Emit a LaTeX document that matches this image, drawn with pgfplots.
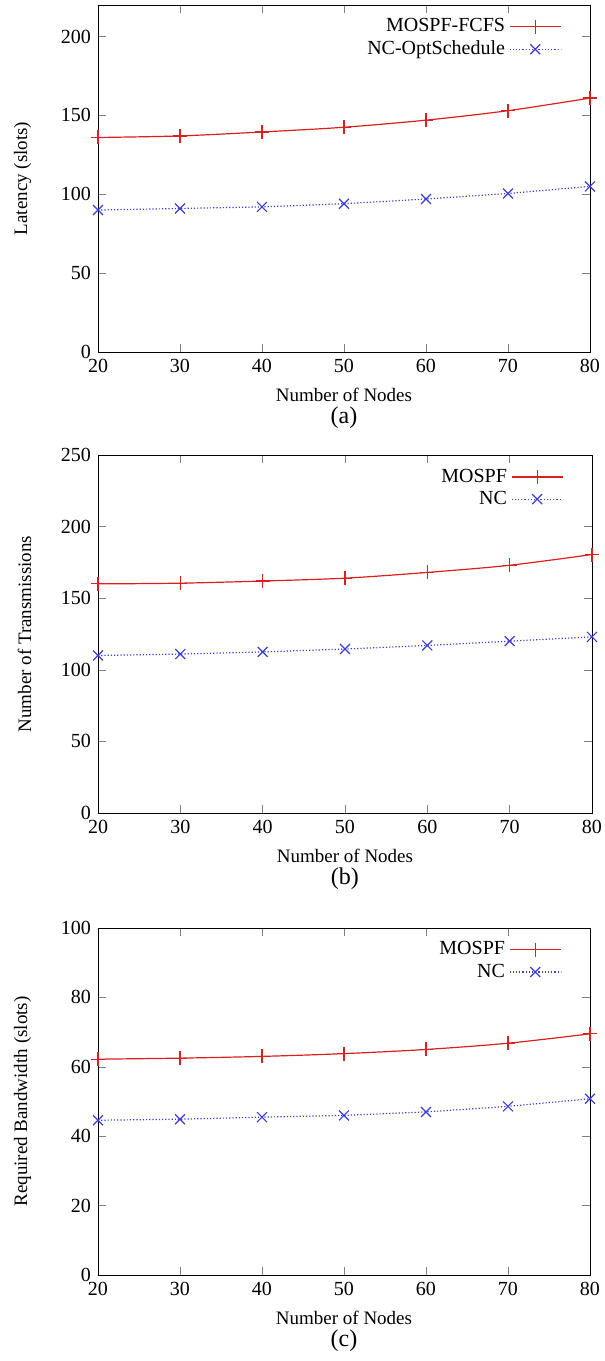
\documentclass[border=0pt]{standalone}
\usepackage{fontspec}
\setmainfont{Liberation Serif}
\usepackage{pgfplots}
\pgfplotsset{compat=1.18}

\definecolor{gpred}{RGB}{220,30,30}
\definecolor{gpblue}{RGB}{60,60,215}

\pgfplotsset{
  gp/.style={
    scale only axis,
    width=246pt,
    xmin=20, xmax=80,
    xtick={20,30,40,50,60,70,80},
    ymin=0,
    tick align=inside,
    major tick length=4pt,
    tick label style={font=\fontsize{10}{12}\selectfont},
    /pgf/number format/assume math mode=true,
    label style={font=\fontsize{9.5}{11}\selectfont},
    xlabel style={align=center, yshift=-1pt},
    ylabel style={yshift=8pt},
    legend style={at={(0.955,0.985)}, anchor=north east, draw=none, fill=none,
      font=\fontsize{10}{12}\selectfont, row sep=-1pt},
    legend cell align=right,
    legend plot pos=right,
    legend image code/.code={
      \draw[mark repeat=2,mark phase=2,#1] plot coordinates {(0cm,0cm) (0.45cm,0cm) (0.9cm,0cm)};
    },
    clip=false,
  },
  redline/.style={gpred, line width=0.6pt, smooth, mark=+, mark size=3.5pt, mark options={solid}},
  blueline/.style={gpblue, line width=0.6pt, densely dotted, mark=x, mark size=3.5pt, mark options={solid}},
}

\begin{document}
\begin{tikzpicture}
\useasboundingbox (0pt,0pt) rectangle (302.5pt,-680.5pt);

% (a)
\begin{axis}[gp, at={(49pt,-176pt)}, anchor=south west,
  height=173.5pt, ymax=220, ytick={0,50,100,150,200},
  ylabel={Latency (slots)},
  xlabel={Number of Nodes\\[0pt]{\fontsize{12}{14}\selectfont (a)}}]
\addplot[redline] coordinates {(20,136) (30,137) (40,139.5) (50,142.5) (60,147) (70,153) (80,161)};
\addplot[blueline] coordinates {(20,90) (30,91) (40,92) (50,94) (60,97) (70,100.5) (80,105)};
\legend{MOSPF-FCFS,NC-OptSchedule}
\end{axis}

% (b)
\begin{axis}[gp, at={(49pt,-406.5pt)}, anchor=south west,
  height=179pt, width=247pt, ymax=250, ytick={0,50,100,150,200,250},
  ylabel={Number of Transmissions},
  xlabel={Number of Nodes\\[0pt]{\fontsize{12}{14}\selectfont (b)}}]
\addplot[redline] coordinates {(20,160) (30,160.5) (40,162) (50,164) (60,168) (70,173) (80,180.5)};
\addplot[blueline] coordinates {(20,110) (30,111) (40,112.5) (50,114.5) (60,117) (70,120) (80,123)};
\legend{MOSPF,NC}
\end{axis}

% (c)
\begin{axis}[gp, at={(49pt,-637.5pt)}, anchor=south west,
  height=173.5pt, ymax=100, ytick={0,20,40,60,80,100},
  ylabel={Required Bandwidth (slots)},
  xlabel={Number of Nodes\\[0pt]{\fontsize{12}{14}\selectfont (c)}}]
\addplot[redline] coordinates {(20,62.2) (30,62.5) (40,63) (50,63.8) (60,65) (70,66.8) (80,69.5)};
\addplot[blueline] coordinates {(20,44.6) (30,44.9) (40,45.5) (50,46) (60,47) (70,48.6) (80,50.8)};
\legend{MOSPF,NC}
\end{axis}
\end{tikzpicture}
\end{document}
